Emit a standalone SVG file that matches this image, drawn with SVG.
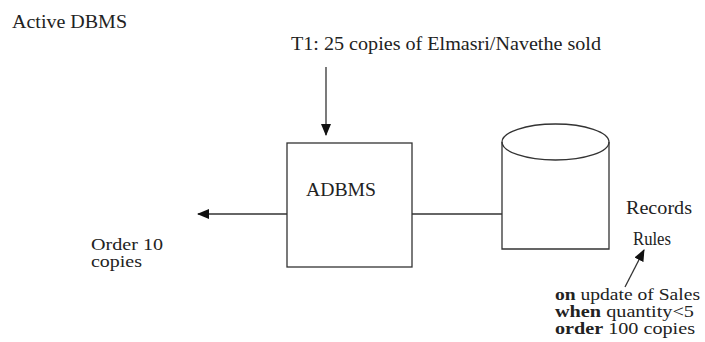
<svg xmlns="http://www.w3.org/2000/svg" width="705" height="342" viewBox="0 0 705 342">
<style>
text{font-family:"Liberation Serif","DejaVu Serif",serif;font-size:19px;fill:#222}
.s{font-size:16px}
.b{font-weight:bold}
.ln{stroke:#333;stroke-width:1.3;fill:none}
</style>
<defs>
<marker id="ah" markerWidth="12" markerHeight="10" refX="11" refY="5" orient="auto" markerUnits="userSpaceOnUse">
<path d="M0,0 L12,5 L0,10 Z" fill="#111"/>
</marker>
</defs>
<rect width="705" height="342" fill="#fff"/>
<text x="12" y="28" textLength="115" lengthAdjust="spacingAndGlyphs">Active DBMS</text>
<text x="291" y="50" textLength="310" lengthAdjust="spacingAndGlyphs">T1: 25 copies of Elmasri/Navethe sold</text>
<g id="adbms">
<rect x="287" y="143" width="125" height="124" class="ln" fill="#fff"/>
<text x="306" y="196" textLength="70" lengthAdjust="spacingAndGlyphs">ADBMS</text>
</g>
<g id="db">
<path d="M502,142 L502,249 L609,249 L609,142" class="ln"/>
<ellipse cx="555.5" cy="142" rx="53.5" ry="18" class="ln"/>
</g>
<g id="records">
<text x="626" y="214" textLength="66" lengthAdjust="spacingAndGlyphs">Records</text>
<text x="633" y="245" textLength="38" lengthAdjust="spacingAndGlyphs">Rules</text>
</g>
<g id="order10">
<text class="s" x="91" y="250" textLength="72" lengthAdjust="spacingAndGlyphs">Order 10</text>
<text class="s" x="91" y="267" textLength="51" lengthAdjust="spacingAndGlyphs">copies</text>
</g>
<g id="rule">
<text class="s" x="555" y="300" textLength="145" lengthAdjust="spacingAndGlyphs"><tspan class="b">on</tspan> update of Sales</text>
<text class="s" x="555" y="317" textLength="139" lengthAdjust="spacingAndGlyphs"><tspan class="b">when</tspan> quantity&lt;5</text>
<text class="s" x="555" y="334" textLength="140" lengthAdjust="spacingAndGlyphs"><tspan class="b">order</tspan> 100 copies</text>
</g>
<g id="connectors">
<line x1="326" y1="67" x2="326" y2="135" class="ln" marker-end="url(#ah)"/>
<line x1="287" y1="214" x2="198" y2="214" class="ln" marker-end="url(#ah)"/>
<line x1="412" y1="214" x2="502" y2="214" class="ln"/>
<line x1="625" y1="287" x2="644" y2="250" class="ln" marker-end="url(#ah)"/>
</g>
</svg>
